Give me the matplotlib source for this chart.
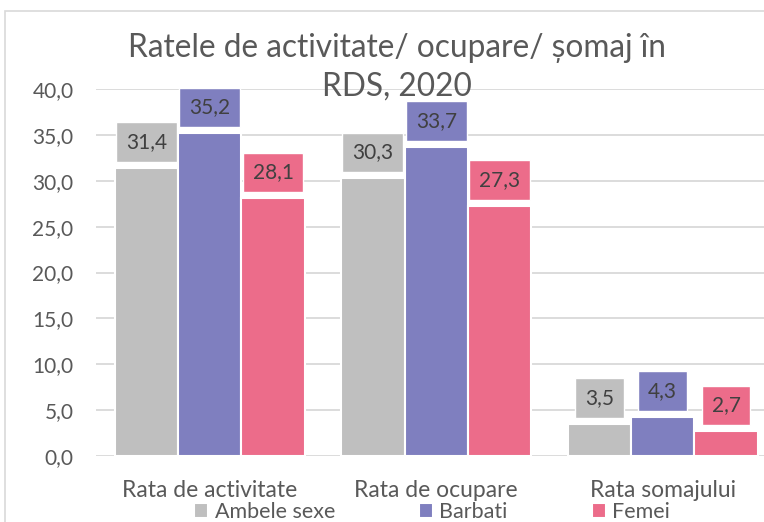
import numpy as np
import matplotlib.pyplot as plt
from matplotlib.patches import Rectangle
from matplotlib.ticker import FuncFormatter

# =====================================================
# Data
# =====================================================

categories = ["Rata de activitate", "Rata de ocupare", "Rata somajului"]
series_names = ["Ambele sexe", "Barbati", "Femei"]
ambele = [31.4, 30.3, 3.5]
barbati = [35.2, 33.7, 4.3]
femei = [28.1, 27.3, 2.7]

colors = ["#bfbfbf", "#7f7fbf", "#ec6c8a"]
text_color = "#595959"

plt.rcParams["font.family"] = ["Lato", "DejaVu Sans"]

# =====================================================
# Figure
# =====================================================

W, H = 764, 522
fig = plt.figure(figsize=(W / 100, H / 100), dpi=100)

# chart border (cropped on the right and bottom)
fig.patches.append(Rectangle((5 / W, -0.1), 1.2, 1 - 11 / H + 0.1,
                             transform=fig.transFigure, fill=False,
                             edgecolor="#d9d9d9", linewidth=1.2))

ax = fig.add_axes([96.5 / W, 1 - 456 / H, (776 - 96.5) / W, (456 - 89) / H])

x = np.arange(len(categories))
width = 0.28
all_series = [ambele, barbati, femei]

for i, (vals, name, col) in enumerate(zip(all_series, series_names, colors)):
    pos = x + (i - 1) * width
    ax.bar(pos, vals, width, color=col, edgecolor="white", linewidth=1.5,
           label=name, zorder=3)
    for px, v in zip(pos, vals):
        ax.annotate(f"{v:.1f}".replace(".", ","), xy=(px, v), xytext=(0, 18.5),
                    textcoords="offset points", ha="center", va="center",
                    fontsize=15, color="#404040", zorder=4,
                    bbox=dict(boxstyle="square,pad=0.47", fc=col, ec="white", lw=1))

ax.set_xlim(-0.5, 2.5)
ax.set_ylim(0, 40)
ax.set_yticks(np.arange(0, 41, 5))
ax.yaxis.set_major_formatter(FuncFormatter(lambda v, p: f"{v:.1f}".replace(".", ",")))
ax.set_xticks(x)
ax.set_xticklabels(categories, fontsize=16.5)
ax.tick_params(axis="both", length=0, colors=text_color)
ax.tick_params(axis="y", pad=16.5, labelsize=15)
ax.tick_params(axis="x", pad=17)
ax.grid(axis="y", color="#d9d9d9", linewidth=1.3, zorder=0)
for s in ax.spines.values():
    s.set_visible(False)

fig.text(397 / W, 1 - 57 / H, "Ratele de activitate/ ocupare/ șomaj în",
         ha="center", va="baseline", fontsize=22.8, color=text_color)
fig.text(397 / W, 1 - 96 / H, "RDS, 2020",
         ha="center", va="baseline", fontsize=22.8, color=text_color, zorder=10)

fig.legend(loc="center", bbox_to_anchor=(432 / W, 1 - 512 / H), ncol=3,
           frameon=False, fontsize=15.5, handlelength=0.65, handleheight=0.65,
           handletextpad=0.3, columnspacing=3.9, borderpad=0, labelcolor=text_color)

fig.savefig("out.png", dpi=100)
